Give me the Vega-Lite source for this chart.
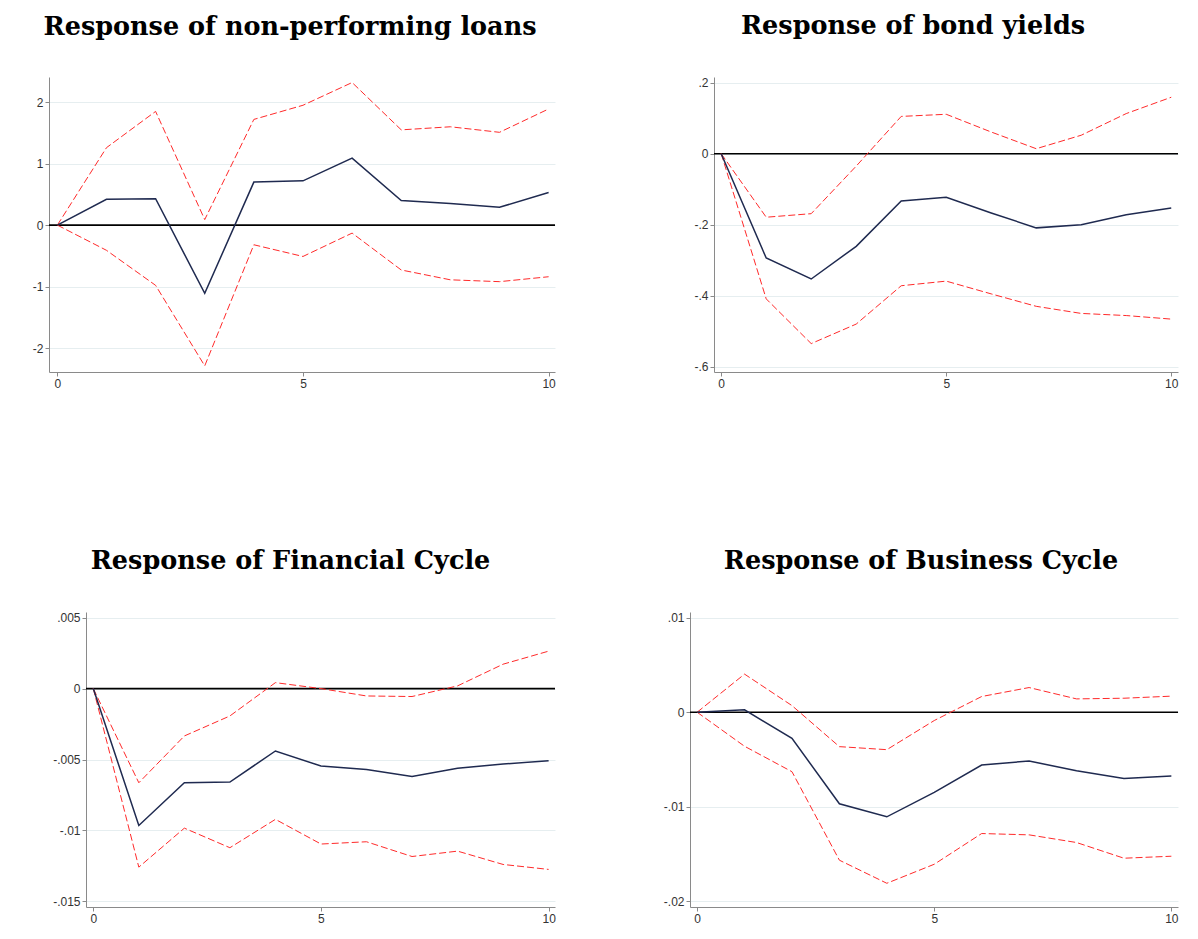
{
  "$schema": "https://vega.github.io/schema/vega-lite/v6.json",
  "background": "white",
  "padding": {"left": 0, "top": 14, "right": 0, "bottom": 0},
  "config": {
    "view": {"stroke": null},
    "axis": {
      "domainColor": "#8a8a8a",
      "tickColor": "#8a8a8a",
      "domainWidth": 1,
      "labelFont": "Liberation Sans",
      "labelFontSize": 12,
      "labelColor": "#333333",
      "tickSize": 4,
      "labelPadding": 2,
      "grid": false
    },
    "axisY": {"grid": true, "gridColor": "#e6eef0", "gridWidth": 1},
    "title": {
      "font": "DejaVu Serif",
      "fontWeight": "bold",
      "fontSize": 25.5,
      "color": "black",
      "anchor": "middle",
      "frame": "group",
      "offset": 37
    }
  },
  "datasets": {
    "none": [],
    "npl": [
      {"step": 0, "irf": 0, "lo": 0, "hi": 0},
      {"step": 1, "irf": 0.42, "lo": -0.41, "hi": 1.26},
      {"step": 2, "irf": 0.43, "lo": -0.98, "hi": 1.85},
      {"step": 3, "irf": -1.11, "lo": -2.29, "hi": 0.09},
      {"step": 4, "irf": 0.70, "lo": -0.32, "hi": 1.72},
      {"step": 5, "irf": 0.72, "lo": -0.51, "hi": 1.95},
      {"step": 6, "irf": 1.09, "lo": -0.13, "hi": 2.32},
      {"step": 7, "irf": 0.40, "lo": -0.73, "hi": 1.55},
      {"step": 8, "irf": 0.35, "lo": -0.89, "hi": 1.60},
      {"step": 9, "irf": 0.29, "lo": -0.92, "hi": 1.51},
      {"step": 10, "irf": 0.53, "lo": -0.84, "hi": 1.89}
    ],
    "bond": [
      {"step": 0, "irf": 0, "lo": 0, "hi": 0},
      {"step": 1, "irf": -0.294, "lo": -0.409, "hi": -0.179},
      {"step": 2, "irf": -0.353, "lo": -0.535, "hi": -0.169},
      {"step": 3, "irf": -0.261, "lo": -0.480, "hi": -0.035},
      {"step": 4, "irf": -0.133, "lo": -0.372, "hi": 0.105},
      {"step": 5, "irf": -0.123, "lo": -0.359, "hi": 0.111},
      {"step": 6, "irf": -0.167, "lo": -0.395, "hi": 0.061},
      {"step": 7, "irf": -0.209, "lo": -0.430, "hi": 0.014},
      {"step": 8, "irf": -0.200, "lo": -0.450, "hi": 0.052},
      {"step": 9, "irf": -0.172, "lo": -0.456, "hi": 0.113},
      {"step": 10, "irf": -0.153, "lo": -0.466, "hi": 0.159}
    ],
    "fin": [
      {"step": 0, "irf": 0, "lo": 0, "hi": 0},
      {"step": 1, "irf": -0.00965, "lo": -0.01259, "hi": -0.00664},
      {"step": 2, "irf": -0.00664, "lo": -0.00984, "hi": -0.00334},
      {"step": 3, "irf": -0.00659, "lo": -0.01122, "hi": -0.00193},
      {"step": 4, "irf": -0.0044, "lo": -0.00922, "hi": 0.00042},
      {"step": 5, "irf": -0.00546, "lo": -0.01096, "hi": 0.0},
      {"step": 6, "irf": -0.0057, "lo": -0.0108, "hi": -0.00052},
      {"step": 7, "irf": -0.00619, "lo": -0.01184, "hi": -0.00056},
      {"step": 8, "irf": -0.00562, "lo": -0.01146, "hi": 0.00019},
      {"step": 9, "irf": -0.00532, "lo": -0.0124, "hi": 0.00172},
      {"step": 10, "irf": -0.00508, "lo": -0.01275, "hi": 0.00264}
    ],
    "bus": [
      {"step": 0, "irf": 0, "lo": 0, "hi": 0},
      {"step": 1, "irf": 0.00025, "lo": -0.0036, "hi": 0.00403},
      {"step": 2, "irf": -0.00276, "lo": -0.00629, "hi": 0.0007},
      {"step": 3, "irf": -0.00968, "lo": -0.01565, "hi": -0.00364},
      {"step": 4, "irf": -0.01106, "lo": -0.01809, "hi": -0.00396},
      {"step": 5, "irf": -0.00848, "lo": -0.01608, "hi": -0.00088},
      {"step": 6, "irf": -0.00558, "lo": -0.01283, "hi": 0.00166},
      {"step": 7, "irf": -0.00516, "lo": -0.01297, "hi": 0.00261},
      {"step": 8, "irf": -0.00618, "lo": -0.01378, "hi": 0.00141},
      {"step": 9, "irf": -0.007, "lo": -0.01544, "hi": 0.00148},
      {"step": 10, "irf": -0.00675, "lo": -0.01523, "hi": 0.0017}
    ]
  },
  "columns": 3,
  "align": "none",
  "spacing": {"row": 160, "column": 31},
  "concat": [
    {"width": 1, "height": 1, "data": {"name": "none"}, "mark": "point", "encoding": {}},
    {
      "title": {"text": "Response of non-performing loans", "dx": -12},
      "width": 506,
      "height": 295,
      "layer": [
        {"data": {"values": [{}]}, "mark": {"type": "rule", "color": "black", "strokeWidth": 1.6}, "encoding": {"y": {"datum": 0, "type": "quantitative", "title": null}}},
        {"data": {"name": "npl"}, "mark": {"type": "line", "color": "#ff2a2a", "strokeWidth": 1, "strokeDash": [7, 3]},
         "encoding": {
           "x": {"field": "step", "type": "quantitative", "title": null, "scale": {"domain": [-0.17, 10.13], "nice": false, "zero": false}, "axis": {"values": [0, 5, 10], "format": "d"}},
           "y": {"field": "hi", "type": "quantitative", "title": null, "scale": {"domain": [-2.39, 2.41], "nice": false, "zero": false}, "axis": {"values": [-2, -1, 0, 1, 2], "minExtent": 17, "labelExpr": "datum.value == 0 ? '0' : (datum.value < 0 ? '-' : '') + replace(toString(abs(datum.value)), '0.', '.')"}}
         }},
        {"data": {"name": "npl"}, "mark": {"type": "line", "color": "#ff2a2a", "strokeWidth": 1, "strokeDash": [7, 3]},
         "encoding": {"x": {"field": "step", "type": "quantitative", "title": null}, "y": {"field": "lo", "type": "quantitative", "title": null}}},
        {"data": {"name": "npl"}, "mark": {"type": "line", "color": "#1f2a50", "strokeWidth": 1.5},
         "encoding": {"x": {"field": "step", "type": "quantitative", "title": null}, "y": {"field": "irf", "type": "quantitative", "title": null}}}
      ]
    },
    {
      "title": {"text": "Response of bond yields", "dx": -33},
      "width": 464,
      "height": 295,
      "layer": [
        {"data": {"values": [{}]}, "mark": {"type": "rule", "color": "black", "strokeWidth": 1.6}, "encoding": {"y": {"datum": 0, "type": "quantitative", "title": null}}},
        {"data": {"name": "bond"}, "mark": {"type": "line", "color": "#ff2a2a", "strokeWidth": 1, "strokeDash": [7, 3]},
         "encoding": {
           "x": {"field": "step", "type": "quantitative", "title": null, "scale": {"domain": [-0.16, 10.15], "nice": false, "zero": false}, "axis": {"values": [0, 5, 10], "format": "d"}},
           "y": {"field": "hi", "type": "quantitative", "title": null, "scale": {"domain": [-0.615, 0.216], "nice": false, "zero": false}, "axis": {"values": [-0.6, -0.4, -0.2, 0, 0.2], "minExtent": 127, "labelExpr": "datum.value == 0 ? '0' : (datum.value < 0 ? '-' : '') + replace(toString(abs(datum.value)), '0.', '.')"}}
         }},
        {"data": {"name": "bond"}, "mark": {"type": "line", "color": "#ff2a2a", "strokeWidth": 1, "strokeDash": [7, 3]},
         "encoding": {"x": {"field": "step", "type": "quantitative", "title": null}, "y": {"field": "lo", "type": "quantitative", "title": null}}},
        {"data": {"name": "bond"}, "mark": {"type": "line", "color": "#1f2a50", "strokeWidth": 1.5},
         "encoding": {"x": {"field": "step", "type": "quantitative", "title": null}, "y": {"field": "irf", "type": "quantitative", "title": null}}}
      ]
    },
    {"width": 1, "height": 1, "data": {"name": "none"}, "mark": "point", "encoding": {}},
    {
      "title": {"text": "Response of Financial Cycle", "dx": -30},
      "width": 469,
      "height": 295,
      "layer": [
        {"data": {"values": [{}]}, "mark": {"type": "rule", "color": "black", "strokeWidth": 1.6}, "encoding": {"y": {"datum": 0, "type": "quantitative", "title": null}}},
        {"data": {"name": "fin"}, "mark": {"type": "line", "color": "#ff2a2a", "strokeWidth": 1, "strokeDash": [7, 3]},
         "encoding": {
           "x": {"field": "step", "type": "quantitative", "title": null, "scale": {"domain": [-0.16, 10.14], "nice": false, "zero": false}, "axis": {"values": [0, 5, 10], "format": "d"}},
           "y": {"field": "hi", "type": "quantitative", "title": null, "scale": {"domain": [-0.0154, 0.0054], "nice": false, "zero": false}, "axis": {"values": [-0.015, -0.01, -0.005, 0, 0.005], "minExtent": 54, "labelExpr": "datum.value == 0 ? '0' : (datum.value < 0 ? '-' : '') + replace(toString(abs(datum.value)), '0.', '.')"}}
         }},
        {"data": {"name": "fin"}, "mark": {"type": "line", "color": "#ff2a2a", "strokeWidth": 1, "strokeDash": [7, 3]},
         "encoding": {"x": {"field": "step", "type": "quantitative", "title": null}, "y": {"field": "lo", "type": "quantitative", "title": null}}},
        {"data": {"name": "fin"}, "mark": {"type": "line", "color": "#1f2a50", "strokeWidth": 1.5},
         "encoding": {"x": {"field": "step", "type": "quantitative", "title": null}, "y": {"field": "irf", "type": "quantitative", "title": null}}}
      ]
    },
    {
      "title": {"text": "Response of Business Cycle", "dx": -13},
      "width": 488,
      "height": 295,
      "layer": [
        {"data": {"values": [{}]}, "mark": {"type": "rule", "color": "black", "strokeWidth": 1.6}, "encoding": {"y": {"datum": 0, "type": "quantitative", "title": null}}},
        {"data": {"name": "bus"}, "mark": {"type": "line", "color": "#ff2a2a", "strokeWidth": 1, "strokeDash": [7, 3]},
         "encoding": {
           "x": {"field": "step", "type": "quantitative", "title": null, "scale": {"domain": [-0.15, 10.14], "nice": false, "zero": false}, "axis": {"values": [0, 5, 10], "format": "d"}},
           "y": {"field": "hi", "type": "quantitative", "title": null, "scale": {"domain": [-0.0206, 0.0106], "nice": false, "zero": false}, "axis": {"values": [-0.02, -0.01, 0, 0.01], "minExtent": 66, "labelExpr": "datum.value == 0 ? '0' : (datum.value < 0 ? '-' : '') + replace(toString(abs(datum.value)), '0.', '.')"}}
         }},
        {"data": {"name": "bus"}, "mark": {"type": "line", "color": "#ff2a2a", "strokeWidth": 1, "strokeDash": [7, 3]},
         "encoding": {"x": {"field": "step", "type": "quantitative", "title": null}, "y": {"field": "lo", "type": "quantitative", "title": null}}},
        {"data": {"name": "bus"}, "mark": {"type": "line", "color": "#1f2a50", "strokeWidth": 1.5},
         "encoding": {"x": {"field": "step", "type": "quantitative", "title": null}, "y": {"field": "irf", "type": "quantitative", "title": null}}}
      ]
    }
  ]
}
